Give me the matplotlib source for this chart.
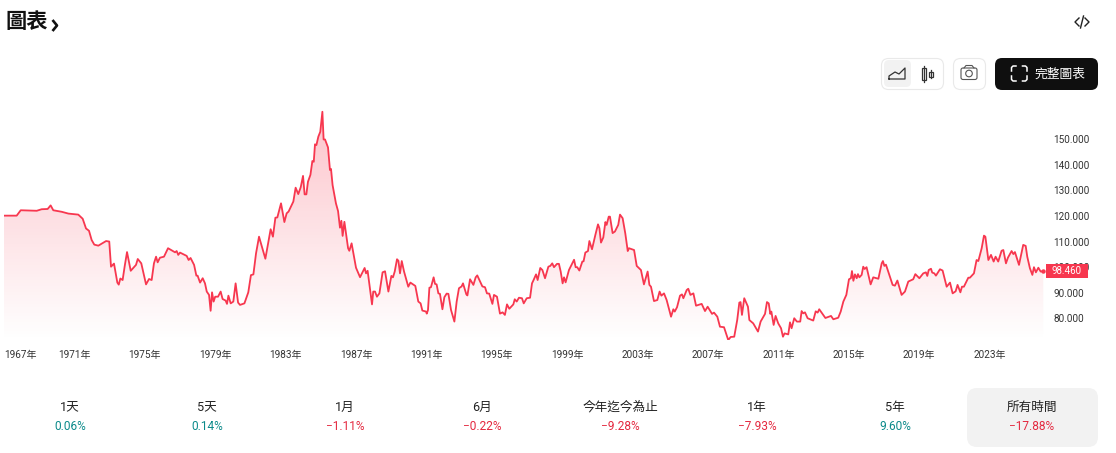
import numpy as np
import matplotlib
matplotlib.use("Agg")
import matplotlib.pyplot as plt
from matplotlib.patches import FancyBboxPatch, Rectangle, Polygon, Circle
from matplotlib.colors import LinearSegmentedColormap

FONT = ['Roboto', 'Noto Sans CJK TC', 'DejaVu Sans']
plt.rcParams['font.family'] = FONT

years = [1967.0,1967.72,1967.95,1968.86,1969.14,1969.48,1969.65,1969.8,1970.28,1970.66,1971.22,1971.47,1971.66,1971.83,1971.98,1972.13,1972.36,1972.8,1972.98,1973.08,1973.25,1973.44,1973.52,1973.61,1973.74,1973.86,1973.99,1974.2,1974.5,1974.6,1974.8,1975.07,1975.24,1975.39,1975.52,1975.64,1975.73,1975.86,1976.09,1976.32,1976.72,1976.81,1976.9,1977.0,1977.38,1977.49,1977.6,1977.8,1977.93,1978.0,1978.14,1978.29,1978.42,1978.52,1978.65,1978.74,1978.82,1978.91,1979.0,1979.16,1979.31,1979.42,1979.59,1979.67,1979.75,1979.88,1980.03,1980.16,1980.3,1980.41,1980.66,1980.88,1981.03,1981.17,1981.32,1981.49,1981.85,1982.15,1982.28,1982.42,1982.53,1982.74,1982.93,1983.06,1983.17,1983.44,1983.57,1983.72,1983.86,1983.99,1984.08,1984.18,1984.27,1984.41,1984.52,1984.6,1984.67,1984.75,1984.86,1984.97,1985.09,1985.16,1985.24,1985.41,1985.52,1985.58,1985.67,1985.86,1985.98,1986.09,1986.17,1986.24,1986.34,1986.55,1986.62,1986.75,1987.0,1987.23,1987.49,1987.57,1987.66,1987.91,
1987.98,1988.08,1988.19,1988.33,1988.51,1988.65,1988.84,1989.01,1989.1,1989.2,1989.33,1989.41,1989.5,1989.6,1989.73,1989.97,1990.09,1990.37,1990.54,1990.67,1990.77,1990.98,1991.02,1991.09,1991.17,1991.26,1991.41,1991.49,1991.58,1991.68,1991.77,1991.91,1992.02,1992.15,1992.25,1992.4,1992.59,1992.72,1992.85,1993.0,1993.08,1993.27,1993.33,1993.48,1993.67,1993.8,1993.89,1994.18,1994.33,1994.44,1994.57,1994.75,1994.84,1995.01,1995.18,1995.33,1995.46,1995.58,1995.71,1995.94,1996.02,1996.13,1996.26,1996.43,1996.53,1996.7,1996.89,1997.0,1997.09,1997.23,1997.32,1997.47,1997.59,1997.74,1997.93,1998.04,1998.15,1998.25,1998.42,1998.53,1998.63,1998.74,1998.82,1998.91,1999.1,1999.39,1999.48,1999.57,1999.69,1999.86,1999.93,2000.03,2000.18,2000.26,2000.41,2000.6,2000.75,2000.83,2000.92,2001.05,2001.17,2001.24,2001.36,2001.43,2001.58,2001.71,2001.9,2002.0,2002.15,2002.3,2002.44,2002.51,2002.8,2002.95,2003.19,2003.36,2003.57,2003.67,2003.76,2003.93,2004.12,2004.25,2004.35,2004.5,2004.65,2004.9,2005.03,2005.11,2005.24,2005.41,2005.52,2005.6,2005.79,2005.88,2006.0,2006.17,2006.32,2006.64,2006.83,2006.98,2007.23,2007.34,2007.53,2007.68,2007.91,2008.15,2008.29,2008.49,2008.66,2008.78,2008.85,2008.93,2009.06,2009.27,2009.35,2009.57,2009.84,2009.99,2010.24,2010.35,2010.45,2010.54,2010.6,2010.73,2010.84,2010.99,2011.15,2011.26,2011.35,2011.56,2011.66,2011.75,2011.9,2012.05,2012.24,2012.32,2012.41,2012.51,2012.66,2012.98,2013.12,2013.23,2013.32,2013.55,2013.67,2013.99,2014.12,2014.4,2014.54,2014.69,2014.86,2015.01,2015.12,2015.18,2015.26,2015.35,2015.45,2015.52,2015.6,2015.73,2015.82,2015.9,2016.01,2016.24,2016.39,2016.68,2016.87,2016.94,2017.02,2017.11,2017.49,2017.62,2017.76,2018.0,2018.19,2018.38,2018.66,2018.78,2019.01,2019.23,2019.38,2019.46,2019.54,2019.67,2019.74,2019.86,2019.95,2020.18,2020.33,2020.56,2020.75,2020.9,2021.07,2021.18,2021.34,2021.43,2021.54,2021.79,2021.88,2022.11,2022.26,2022.36,2022.55,2022.68,2022.76,2022.93,2023.08,2023.23,2023.34,2023.49,2023.68,2023.78,2023.93,2024.04,2024.25,2024.35,2024.44,2024.67,2024.91,2025.05,2025.14,2025.29,2025.43,2025.52,2025.63,2025.77,2025.9,2026.05]
values = [120.1,120.1,122.2,122.0,122.6,122.7,124.1,122.2,121.6,120.9,120.5,118.9,115.1,114.2,110.6,108.8,108.4,110.2,110.0,100.2,101.4,94.0,93.2,95.6,95.0,100.5,105.9,98.6,100.9,103.2,101.5,93.3,95.4,95.0,101.5,104.1,101.9,103.7,104.1,107.4,105.8,106.3,104.8,105.7,104.4,102.8,103.6,100.9,96.7,96.7,94.0,95.7,93.7,90.5,89.2,83.0,90.2,86.6,88.5,88.5,90.5,87.6,87.0,85.7,88.9,85.9,86.6,93.7,86.2,85.3,85.9,90.2,96.9,97.2,105.4,111.9,103.3,114.8,111.9,119.3,119.4,124.9,117.6,121.0,121.7,125.6,131.0,128.5,131.2,135.6,128.4,128.4,133.3,136.0,141.4,141.1,147.9,147.6,150.9,152.8,160.6,149.8,149.8,146.7,137.9,138.3,132.0,124.9,121.9,115.4,118.1,112.2,117.7,107.4,106.4,109.3,99.8,96.1,99.7,97.6,98.6,85.5,
90.5,90.5,88.5,89.8,98.0,98.4,90.5,96.6,96.05,98.3,103.1,102.5,97.6,102.4,98.3,92.4,94.0,92.7,86.6,85.9,83.1,82.7,81.9,83.3,92.0,92.2,96.05,93.5,93.3,89.8,89.6,83.6,88.3,89.7,89.6,83.3,78.8,86.6,91.8,92.5,93.7,89.4,89.0,95.3,93.1,96.05,96.8,92.5,92.2,89.8,89.7,85.7,89.2,88.5,81.9,82.4,81.4,85.5,83.8,85.5,87.5,86.6,88.1,87.9,85.9,87.9,88.1,93.7,95.0,97.2,95.0,99.7,98.9,95.7,100.2,100.5,101.5,100.0,101.3,101.3,98.3,93.7,96.05,94.1,98.9,102.9,100.0,100.0,98.7,102.2,102.3,105.7,106.3,110.2,107.0,112.6,116.7,115.2,109.6,111.6,117.6,116.5,119.7,119.7,113.3,113.9,116.5,120.5,119.1,113.2,106.3,107.4,106.7,100.5,98.9,93.3,98.3,93.1,92.4,86.8,87.2,90.5,88.9,89.8,87.2,80.7,83.6,82.7,84.4,88.9,89.4,87.9,91.1,91.6,89.2,89.8,85.0,85.7,82.9,84.6,81.8,82.3,80.7,76.8,76.6,71.6,72.8,72.9,79.4,86.2,86.4,81.4,87.9,84.6,79.4,78.1,74.9,78.8,81.8,86.4,85.9,81.8,82.7,77.5,81.0,78.1,76.2,72.9,74.2,73.8,78.5,76.2,80.1,78.8,78.8,82.9,82.0,82.4,80.1,79.2,82.8,82.3,83.6,81.4,80.2,81.0,79.7,80.3,82.7,86.6,89.2,95.3,95.7,98.5,94.7,97.2,95.7,97.3,96.05,97.0,100.2,99.3,100.0,93.3,96.05,95.5,101.5,102.4,100.5,101.0,93.1,92.8,94.8,89.2,90.5,94.4,95.3,97.3,95.7,97.6,98.0,96.6,98.9,99.4,97.9,97.6,96.7,99.2,98.7,92.4,94.0,89.8,90.6,93.1,90.2,92.4,92.4,95.9,95.9,97.6,102.8,102.4,107.4,112.3,111.9,102.8,104.8,102.2,104.1,102.2,106.4,106.7,101.5,103.7,106.3,105.1,105.9,100.9,108.7,108.3,104.1,99.6,97.0,100.0,98.0,99.8,98.3,98.46]

y_ticks = [80, 90, 100, 110, 120, 130, 140, 150]
x_ticks = list(range(1967, 2024, 4))
last_price = "98.460"
periods = ["1天", "5天", "1月", "6月", "今年迄今為止", "1年", "5年", "所有時間"]
changes = ["0.06%", "0.14%", "\u22121.11%", "\u22120.22%", "\u22129.28%", "\u22127.93%", "9.60%", "\u221217.88%"]

W, H = 1116, 453
RED = '#F7374F'
TEXT_RED = '#E4283F'
TEAL = '#0B8A8A'
fig = plt.figure(figsize=(W / 100, H / 100), dpi=100, facecolor='white')

# UI layer in pixel coordinates
ui = fig.add_axes([0, 0, 1, 1], zorder=0)
ui.set_xlim(0, W); ui.set_ylim(H, 0); ui.axis('off')

# chart axes: px x 4..1046, px y 100..340
px_left, px_right, px_top, px_bot = 4, 1046, 100, 340
ax = fig.add_axes([px_left / W, 1 - px_bot / H, (px_right - px_left) / W, (px_bot - px_top) / H], zorder=1)
ax.patch.set_alpha(0)
pxyr, y80, pxval = 17.6, 318.5, 2.565
ax.set_xlim(1967, 1967 + (px_right - px_left) / pxyr)
ax.set_ylim(80 - (px_bot - y80) / pxval, 80 + (y80 - px_top) / pxval)
for s in ax.spines.values():
    s.set_visible(False)

y0, y1 = ax.get_ylim()
cmap = LinearSegmentedColormap.from_list('f', [(0.969, 0.216, 0.31, 0.0), (0.969, 0.216, 0.31, 0.30)])
im = ax.imshow(np.linspace(1, 0, 256)[:, None], extent=[1967, 2026.05, y0, 160.6], aspect='auto',
               cmap=cmap, vmin=0, vmax=1, origin='upper', zorder=1)
poly = Polygon(list(zip(years, values)) + [(years[-1], y0), (years[0], y0)], closed=True,
               transform=ax.transData, fc='none', ec='none')
ax.add_patch(poly)
im.set_clip_path(poly)
ax.plot(years, values, color=RED, lw=1.3, solid_joinstyle='round', zorder=3)
ax.plot(years[-1:], values[-1:], 'o', color=RED, ms=3.2, mew=0, zorder=4)
ax.set_xlim(1967, 1967 + (px_right - px_left) / pxyr)
ax.set_ylim(y0, y1)

ax.set_xticks(x_ticks)
ax.set_xticklabels([f"{y}年" for y in x_ticks], fontsize=7.2, color='#333333')
ax.get_xticklabels()[0].set_ha('left')
ax.tick_params(axis='x', length=0, pad=7)
ax.yaxis.tick_right()
ax.set_yticks(y_ticks)
ax.set_yticklabels([f"{v}.000" for v in y_ticks], fontsize=7.2, color='#333333')
ax.tick_params(axis='y', length=0, pad=5.5)

# price tag
ui2 = fig.add_axes([0, 0, 1, 1], zorder=2)
ui2.set_xlim(0, W); ui2.set_ylim(H, 0); ui2.axis('off'); ui2.patch.set_alpha(0)
ui2.add_patch(Rectangle((1046, 264), 41.5, 14, fc=RED, ec='none'))
ui2.text(1082, 271, last_price, color='white', fontsize=7, ha='right', va='center')

# header
ui.text(5, 22.5, "圖表", fontsize=15.3, color='#111111', ha='left', va='center', fontweight='bold')
ui.plot([52.5, 57, 52.5], [20, 25.5, 31], color='#111111', lw=1.9, solid_capstyle='butt')
ui.plot([1079, 1075, 1079], [18, 22, 26], color='#222222', lw=1)
ui.plot([1085, 1089, 1085], [18, 22, 26], color='#222222', lw=1)
ui.plot([1083.5, 1080.5], [16, 28], color='#222222', lw=1)

def rbox(a, x0, y0_, x1, y1_, r, fc, ec='none', lw=1):
    a.add_patch(FancyBboxPatch((x0 + r, y0_ + r), x1 - x0 - 2 * r, y1_ - y0_ - 2 * r,
                               boxstyle=f"round,pad={r},rounding_size={r}", fc=fc, ec=ec, lw=lw))

rbox(ui, 881.5, 58.5, 943.5, 89.5, 7, 'white', '#E9E9E9', 0.8)
rbox(ui, 884, 60, 911, 87, 5, '#F2F2F2')
ui.plot([889, 889, 895, 899, 905, 905, 889], [79, 76, 72, 74, 68, 79, 79], color='#333333', lw=0.9)
for cx, top, bot, bt, bb in [(924, 66, 82, 68, 80), (931, 70, 78, 72, 77)]:
    ui.plot([cx, cx], [top, bot], color='#333333', lw=0.9)
    ui.add_patch(Rectangle((cx - 1.6, bt), 3.2, bb - bt, fc='white', ec='#333333', lw=0.9))
rbox(ui, 953.5, 58.5, 985.5, 89.5, 7, 'white', '#E9E9E9', 0.8)
rbox(ui, 961, 68, 977, 79.5, 2, 'white', '#555555', 0.8)
ui.plot([964, 966, 972, 974], [68, 65.5, 65.5, 68], color='#555555', lw=0.8)
ui.add_patch(Circle((969, 73.5), 3.3, fc='white', ec='#555555', lw=0.8))
rbox(ui, 995, 58, 1098, 90, 7, '#0F0F0F')
for xs, ys in [([1011.5, 1011.5, 1013, 1016], [71, 67.5, 66, 66]), ([1022.5, 1025.5, 1027, 1027], [66, 66, 67.5, 71]),
               ([1011.5, 1011.5, 1013, 1016], [76, 79.5, 81, 81]), ([1022.5, 1025.5, 1027, 1027], [81, 81, 79.5, 76])]:
    ui.plot(xs, ys, color='white', lw=1.1, solid_joinstyle='round')
ui.text(1059.5, 74, "完整圖表", color='white', fontsize=9.2, ha='center', va='center')

# period row
rbox(ui, 967, 388, 1098, 447, 10, '#F2F2F2')
centers = [70, 207, 345, 482, 620, 757, 895, 1032]
for cx, p, c in zip(centers, periods, changes):
    ui.text(cx, 407.5, p, fontsize=9.1, color='#222222', ha='center', va='center')
    ui.text(cx, 427, c, fontsize=8.6, color=(TEXT_RED if c.startswith('\u2212') else TEAL), ha='center', va='center')

fig.savefig('out.png', dpi=100, facecolor='white')
